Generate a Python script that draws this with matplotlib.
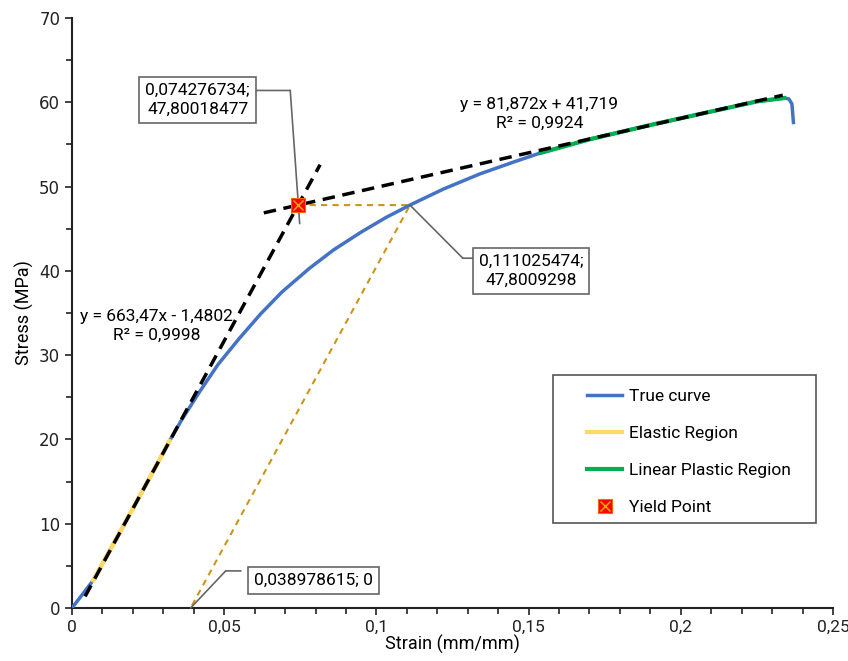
import matplotlib
matplotlib.use("Agg")
import matplotlib.pyplot as plt
from matplotlib.ticker import MultipleLocator, FuncFormatter
from matplotlib.lines import Line2D
from matplotlib.patches import Rectangle
from matplotlib.legend_handler import HandlerTuple
import numpy as np

plt.rcParams['font.family'] = ['Roboto', 'DejaVu Sans']

# True curve (strain, stress)
true_x = [0, 0.007, 0.015, 0.025, 0.032, 0.036, 0.042, 0.048, 0.055, 0.062,
          0.069, 0.078, 0.086, 0.095, 0.103, 0.111, 0.122, 0.134, 0.145, 0.154,
          0.17, 0.19, 0.21, 0.225, 0.234, 0.2355, 0.2365, 0.2368, 0.237]
true_y = [0, 3.3, 8.5, 15.1, 19.8, 22.3, 25.7, 28.9, 32.0, 34.9,
          37.5, 40.3, 42.5, 44.6, 46.3, 47.8, 49.7, 51.5, 52.9, 54.0,
          55.6, 57.3, 58.9, 60.1, 60.5, 60.4, 59.8, 58.5, 57.6]

# Elastic region
elastic_x = [0.007, 0.015, 0.025, 0.032]
elastic_y = [3.3, 8.5, 15.1, 19.8]

# Linear plastic region
plastic_x = [0.154, 0.17, 0.19, 0.21, 0.225, 0.234]
plastic_y = [54.0, 55.6, 57.3, 58.9, 60.1, 60.5]

# Fits
elastic_slope, elastic_icpt = 663.47, -1.4802
plastic_slope, plastic_icpt = 81.872, 41.719
elastic_fit_range = [0.0043, 0.0815]
plastic_fit_range = [0.063, 0.2335]

# Yield construction
yield_pt = (0.074276734, 47.80018477)
offset_top = (0.111025474, 47.8009298)
offset_bottom = (0.038978615, 0)

fig = plt.figure(figsize=(8.48, 6.61), dpi=100)
ax = fig.add_axes([0.0849, 0.0802, 0.8974, 0.8926])

blue = '#4472C4'
yellow = '#FFD966'
green = '#00B050'
gold = '#C9961A'

ax.plot(true_x, true_y, color=blue, lw=2.5, zorder=3, solid_joinstyle='round')
ax.plot(elastic_x, elastic_y, color=yellow, lw=3.2, zorder=4)
ax.plot(plastic_x, plastic_y, color=green, lw=3.0, zorder=4)

ex = np.array(elastic_fit_range)
ax.plot(ex, elastic_slope * ex + elastic_icpt, color='black', lw=2.5,
        dashes=(3.6, 2.2), zorder=5)
px = np.array(plastic_fit_range)
ax.plot(px, plastic_slope * px + plastic_icpt, color='black', lw=2.5,
        dashes=(3.6, 2.2), zorder=5)

ax.plot([yield_pt[0], offset_top[0], offset_bottom[0]],
        [yield_pt[1], offset_top[1], offset_bottom[1]],
        color=gold, lw=1.5, dashes=(3, 2.5), zorder=2)

ax.plot([yield_pt[0]], [yield_pt[1]], marker='s', ms=10, mfc='red',
        mec='#FF6600', mew=0.8, zorder=7, ls='none')
ax.plot([yield_pt[0]], [yield_pt[1]], marker='x', ms=7, mec='#FFB000',
        mew=1.0, zorder=8, ls='none')

ax.set_xlim(0, 0.25)
ax.set_ylim(0, 70)
ax.xaxis.set_major_locator(MultipleLocator(0.05))
ax.xaxis.set_minor_locator(MultipleLocator(0.01))
ax.yaxis.set_major_locator(MultipleLocator(10))
ax.yaxis.set_minor_locator(MultipleLocator(5))

def xfmt(v, pos):
    s = ('%.2f' % v).rstrip('0').rstrip('.')
    return s.replace('.', ',')
ax.xaxis.set_major_formatter(FuncFormatter(xfmt))
ax.yaxis.set_major_formatter(FuncFormatter(lambda v, p: '%d' % v))

for s in ['top', 'right']:
    ax.spines[s].set_visible(False)
for s in ['left', 'bottom']:
    ax.spines[s].set_linewidth(1.5)
    ax.spines[s].set_color('#222222')
ax.tick_params(axis='both', which='major', direction='out', length=5, width=1.2,
               labelsize=12.5, colors='#222222')
ax.tick_params(axis='both', which='minor', direction='out', length=4, width=1.2,
               colors='#222222')
for lbl in ax.get_yticklabels():
    lbl.set_family('DejaVu Sans')
    lbl.set_fontsize(12)

ax.set_xlabel('Strain (mm/mm)', fontsize=13, labelpad=0)
ax.set_ylabel('Stress (MPa)', fontsize=13, labelpad=4)

# Fit equations
ax.text(0.0278, 33.5, 'y = 663,47x - 1,4802\nR² = 0,9998', ha='center',
        va='center', fontsize=12.5, linespacing=1.3, zorder=6)
ax.text(0.1535, 58.6, 'y = 81,872x + 41,719\nR² = 0,9924', ha='center',
        va='center', fontsize=12.5, linespacing=1.3, zorder=6)

box = dict(boxstyle='square,pad=0.35', fc='white', ec='#666666', lw=1.2)
arrow = dict(arrowstyle='-', color='#666666', lw=1.2, shrinkA=0, shrinkB=0)

# Annotation for yield point
ax.annotate('', xy=(0.0748, 45.6), xytext=(0.0717, 61.4),
            arrowprops=arrow, zorder=6)
ax.annotate('', xy=(0.0717, 61.4), xytext=(0.0601, 61.4),
            arrowprops=arrow, zorder=6)
ax.text(0.0413, 60.3, '0,074276734;\n47,80018477', ha='center', va='center',
        fontsize=12.5, linespacing=1.35, bbox=box, zorder=6)

# Annotation for offset top
ax.annotate('', xy=offset_top, xytext=(0.1284, 41.5), arrowprops=arrow, zorder=6)
ax.annotate('', xy=(0.1284, 41.5), xytext=(0.136, 41.5), arrowprops=arrow, zorder=6)
ax.text(0.1508, 40.0, '0,111025474;\n47,8009298', ha='center', va='center',
        fontsize=12.5, linespacing=1.35, bbox=box, zorder=6)

# Annotation for offset bottom
ax.annotate('', xy=offset_bottom, xytext=(0.0505, 4.4), arrowprops=arrow, zorder=6)
ax.annotate('', xy=(0.0505, 4.4), xytext=(0.0555, 4.4), arrowprops=arrow, zorder=6)
ax.text(0.0792, 3.3, '0,038978615; 0', ha='center', va='center',
        fontsize=12.5, bbox=box, zorder=6)

# Legend frame
frame = Rectangle((0.632, 0.144), 0.3457, 0.2509, transform=ax.transAxes,
                  fc='white', ec='#555555', lw=1.2, zorder=9)
ax.add_patch(frame)

yield_sq = Line2D([], [], marker='s', ms=10, mfc='red', mec='#FF6600', mew=0.8,
                  ls='none')
yield_x = Line2D([], [], marker='x', ms=7, mec='#FFB000', mew=1.0, ls='none')
handles = [
    Line2D([], [], color=blue, lw=2.5),
    Line2D([], [], color=yellow, lw=3),
    Line2D([], [], color=green, lw=3),
    (yield_sq, yield_x),
]
labels = ['True curve', 'Elastic Region', 'Linear Plastic Region', 'Yield Point']
leg = ax.legend(handles, labels, loc='upper left', bbox_to_anchor=(0.677, 0.371),
                fontsize=12.5, frameon=False, borderpad=0, labelspacing=1.25,
                handlelength=2.0, handletextpad=0.4, borderaxespad=0,
                handler_map={tuple: HandlerTuple(ndivide=1)})
leg.set_zorder(10)

fig.savefig('out.png', dpi=100)
